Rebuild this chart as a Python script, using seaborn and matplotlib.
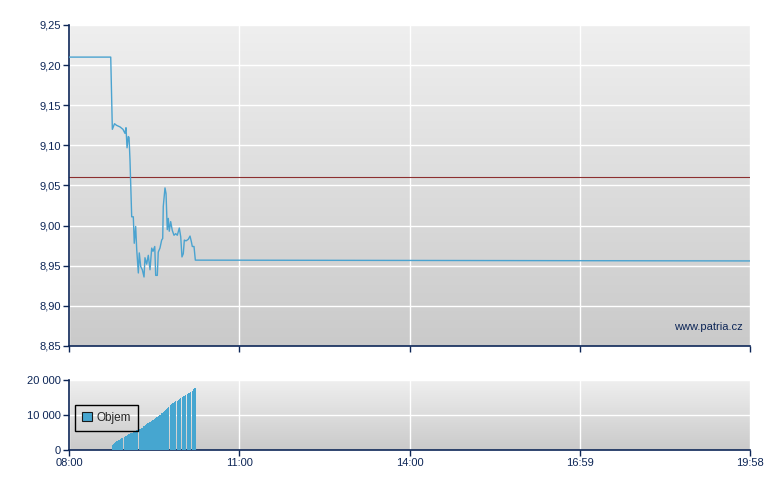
import numpy as np
import pandas as pd
import matplotlib
matplotlib.use("Agg")
import matplotlib.pyplot as plt
import seaborn as sns
from matplotlib.colors import LinearSegmentedColormap
from matplotlib.ticker import FuncFormatter

# ---- data (minutes after 08:00) ----
price_min = [0, 44, 45.7, 48, 50.1, 53.8, 56.9, 59.0, 60.1, 61.2, 62.5, 63.3, 64.3, 66.1,
             67.8, 68.8, 70.3, 71.4, 73.1, 74.1, 75.6, 77.3, 79.1, 80.1, 81.9, 83.6,
             85.4, 87.2, 88.6, 90.4, 91.4, 93.1, 94.1, 95.9, 97.7, 98.8, 99.4, 101.2,
             102.3, 103.6, 104.7, 105.7, 107.2, 108.9, 110.7, 112.5, 114.2, 116.3,
             117.8, 119.1, 120.5, 121.6, 123.4, 125.8, 127.6, 129.0, 130.0, 131.8,
             133.2, 718]
price_val = [9.21, 9.21, 9.120, 9.127, 9.125, 9.123, 9.120, 9.115, 9.122, 9.097, 9.111,
             9.110, 9.082, 9.011, 9.011, 8.978, 8.999, 8.970, 8.941, 8.966, 8.949, 8.945,
             8.936, 8.960, 8.952, 8.963, 8.945, 8.972, 8.968, 8.974, 8.938, 8.938, 8.967,
             8.972, 8.982, 8.984, 9.024, 9.047, 9.040, 8.995, 9.009, 8.993, 9.005, 8.994,
             8.988, 8.990, 8.988, 8.997, 8.986, 8.961, 8.965, 8.982, 8.981, 8.983, 8.987,
             8.980, 8.974, 8.974, 8.957, 8.956]
ref_price = 9.06

vol_min = [46, 47, 48, 49, 50, 51, 52, 53, 54, 55, 56, 58, 59, 60, 61, 62, 63, 64, 65,
           66, 67, 68, 69, 70, 71, 72, 74, 75, 76, 77, 78, 79, 80, 81, 82, 83, 84, 85,
           86, 87, 88, 89, 90, 91, 92, 93, 94, 95, 96, 97, 98, 99, 100, 101, 102, 103,
           104, 105, 107, 108, 109, 110, 111, 112, 114, 115, 116, 117, 118, 120, 121,
           122, 123, 125, 126, 127, 128, 130, 131, 132, 133]
vol_val = [1400, 1700, 2000, 2200, 2500, 2700, 2900, 3000, 3200, 3400, 3500, 3700, 3800,
           4000, 4100, 4300, 4500, 4600, 4800, 4900, 5000, 5200, 5300, 5500, 5600, 5800,
           6000, 6100, 6300, 6400, 6600, 6800, 7000, 7200, 7400, 7600, 7700, 7900, 8100,
           8300, 8500, 8700, 8900, 9100, 9300, 9500, 9700, 9900, 10100, 10300, 10500,
           10700, 11000, 11200, 11500, 11800, 12100, 12400, 12900, 13100, 13300, 13500,
           13700, 13900, 14100, 14300, 14500, 14700, 14800, 15100, 15300, 15500, 15700,
           16000, 16200, 16400, 16600, 17000, 17500, 17700, 17800]

x_ticks = [0, 179.5, 359, 538.5, 718]
x_labels = ["08:00", "11:00", "14:00", "16:59", "19:58"]

# ---- style ----
sns.set_theme(style="white")
plt.rcParams["font.family"] = ["Liberation Sans", "DejaVu Sans"]
NAVY = "#0d2657"
LINE = "#4aa3d0"
BAR = "#46a6d0"

fig = plt.figure(figsize=(7.8, 4.9), dpi=100)
ax = fig.add_axes([69/780, 144/490, 681/780, 321/490])
ax2 = fig.add_axes([69/780, 40/490, 681/780, 70/490])

grad = LinearSegmentedColormap.from_list("g", ["#cacaca", "#efefef"])

def style_axes(a):
    a.imshow(np.linspace(0, 1, 256).reshape(-1, 1), cmap=grad, origin="lower",
             extent=[0, 1, 0, 1], transform=a.transAxes, aspect="auto", zorder=-1)
    a.set_axisbelow(True)
    a.grid(True, color="white", linewidth=1)
    for s in ["top", "right"]:
        a.spines[s].set_visible(False)
    for s in ["left", "bottom"]:
        a.spines[s].set_color(NAVY)
        a.spines[s].set_linewidth(1.2)
    a.tick_params(direction="out", length=4, width=1, color=NAVY, labelcolor=NAVY,
                  labelsize=8, left=True, bottom=True, pad=2)
    a.set_xticks(x_ticks)
    a.set_xlim(0, 718)
    a.set_xlabel("")
    a.set_ylabel("")

# price panel
price_df = pd.DataFrame({"t": price_min, "p": price_val})
sns.lineplot(data=price_df, x="t", y="p", ax=ax, color=LINE, linewidth=1, zorder=3)
ax.axhline(ref_price, color="#8c2f2f", linewidth=0.8, zorder=2)
style_axes(ax)
ax.set_ylim(8.85, 9.25)
ax.set_yticks(np.arange(8.85, 9.2501, 0.05))
ax.yaxis.set_major_formatter(FuncFormatter(lambda v, p: f"{v:.2f}".replace(".", ",")))
ax.set_xticklabels([])
ax.text(0.99, 0.06, "www.patria.cz", transform=ax.transAxes, ha="right", va="center",
        color=NAVY, fontsize=8)

# volume panel
vol_df = pd.DataFrame({"t": vol_min, "v": vol_val})
sns.histplot(data=vol_df, x="t", weights="v", discrete=True, shrink=1.0, ax=ax2,
             color=BAR, alpha=1, linewidth=0, label="Objem", zorder=3)
style_axes(ax2)
ax2.set_ylim(0, 20000)
ax2.set_yticks([0, 10000, 20000])
ax2.yaxis.set_major_formatter(FuncFormatter(lambda v, p: f"{int(v):,}".replace(",", " ")))
ax2.set_xticklabels(x_labels)
leg = ax2.legend(loc="upper left", bbox_to_anchor=(0.009, 0.643), fancybox=False,
                 fontsize=8.5, handlelength=0.8, handleheight=0.8, borderpad=0.6,
                 handletextpad=0.4, borderaxespad=0)
frame = leg.get_frame()
frame.set_alpha(None)
frame.set_facecolor("none")
frame.set_edgecolor("black")
frame.set_linewidth(1)
for h in leg.legend_handles:
    h.set_edgecolor("#1a1a1a")
    h.set_linewidth(0.8)

fig.savefig("out.png", dpi=100, facecolor="white")
